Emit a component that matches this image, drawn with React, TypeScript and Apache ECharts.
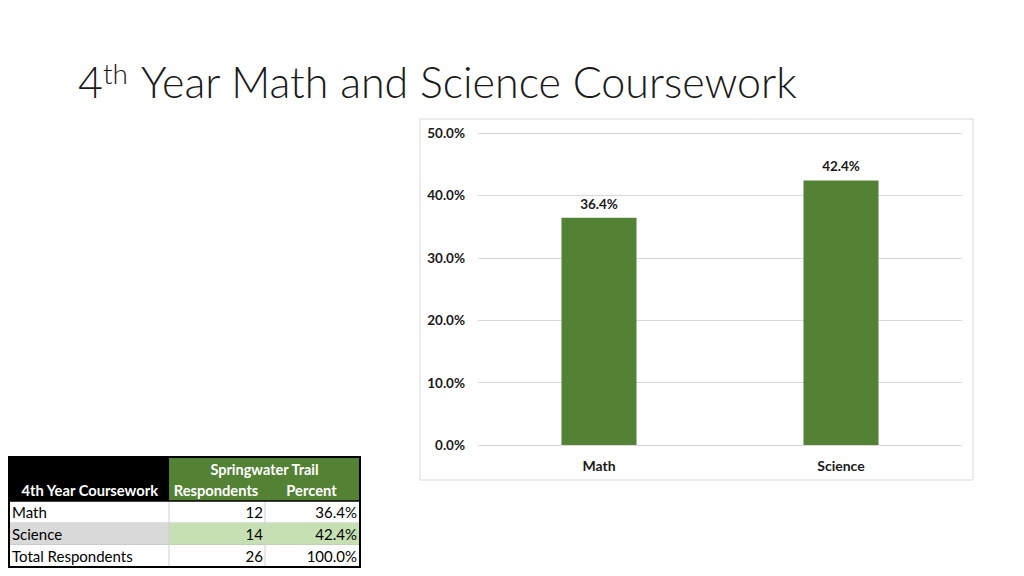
import React, { useEffect, useRef } from "react";
import * as echarts from "echarts";

const categories = ["Math", "Science"];
const respondents = [12, 14];
const percents = [0.364, 0.424];
const totalRespondents = 26;
const totalPercent = 1.0;

const GREEN = "#548235";
const FONT = "Lato, 'Open Sans', sans-serif";

function pct(v: number) {
  return (v * 100).toFixed(1) + "%";
}

function buildTable(): any[] {
  const x0 = 9, x1 = 169, x2 = 265, x3 = 360;
  const yTop = 457, hdrMid = 479, hdrEnd = 501, rowH = 22;
  const els: any[] = [];
  els.push({ type: "rect", shape: { x: x0, y: yTop, width: x1 - x0, height: hdrEnd - yTop }, style: { fill: "#000" } });
  els.push({ type: "rect", shape: { x: x1, y: yTop, width: x3 - x1, height: hdrEnd - yTop }, style: { fill: GREEN } });
  const rows = [
    ...categories.map((c, i) => ({ label: c, n: String(respondents[i]), p: pct(percents[i]) })),
    { label: "Total Respondents", n: String(totalRespondents), p: pct(totalPercent) },
  ];
  rows.forEach((r, i) => {
    const y = hdrEnd + i * rowH;
    const shaded = i === 1;
    els.push({ type: "rect", shape: { x: x0, y, width: x1 - x0, height: rowH }, style: { fill: shaded ? "#d9d9d9" : "#fff" } });
    els.push({ type: "rect", shape: { x: x1, y, width: x3 - x1, height: rowH }, style: { fill: shaded ? "#c6e0b4" : "#fff" } });
    els.push({ type: "text", x: x0 + 3, y: y + rowH / 2, style: { text: r.label, fill: "#000", font: `15px ${FONT}`, verticalAlign: "middle", align: "left" } });
    els.push({ type: "text", x: x2 - 2, y: y + rowH / 2, style: { text: r.n, fill: "#000", font: `15px ${FONT}`, verticalAlign: "middle", align: "right" } });
    els.push({ type: "text", x: x3 - 3, y: y + rowH / 2, style: { text: r.p, fill: "#000", font: `15px ${FONT}`, verticalAlign: "middle", align: "right" } });
    els.push({ type: "line", shape: { x1: x0, y1: y + rowH, x2: x3, y2: y + rowH }, style: { stroke: "#bfbfbf", lineWidth: 1 } });
  });
  els.push({ type: "line", shape: { x1: x1, y1: hdrEnd, x2: x1, y2: hdrEnd + 3 * rowH }, style: { stroke: "#d0d0d0", lineWidth: 1 } });
  els.push({ type: "line", shape: { x1: x2, y1: hdrEnd, x2: x2, y2: hdrEnd + 3 * rowH }, style: { stroke: "#d0d0d0", lineWidth: 1 } });
  els.push({ type: "line", shape: { x1: x0, y1: hdrEnd, x2: x3, y2: hdrEnd }, style: { stroke: "#000", lineWidth: 1.5 } });
  els.push({ type: "text", x: (x1 + x3) / 2, y: (yTop + hdrMid) / 2 + 1, style: { text: "Springwater Trail", fill: "#fff", font: `bold 14.5px ${FONT}`, align: "center", verticalAlign: "middle" } });
  els.push({ type: "text", x: x1 - 11, y: (hdrMid + hdrEnd) / 2, style: { text: "4th Year Coursework", fill: "#fff", font: `bold 14.7px ${FONT}`, align: "right", verticalAlign: "middle" } });
  els.push({ type: "text", x: (x1 + x2) / 2 - 1, y: (hdrMid + hdrEnd) / 2, style: { text: "Respondents", fill: "#fff", font: `bold 14.7px ${FONT}`, align: "center", verticalAlign: "middle" } });
  els.push({ type: "text", x: (x2 + x3) / 2 - 1, y: (hdrMid + hdrEnd) / 2, style: { text: "Percent", fill: "#fff", font: `bold 14.7px ${FONT}`, align: "center", verticalAlign: "middle" } });
  els.push({ type: "rect", shape: { x: x0, y: yTop, width: x3 - x0, height: hdrEnd + 3 * rowH - yTop }, style: { fill: "none", stroke: "#000", lineWidth: 2 } });
  return els;
}

export default function App() {
  const ref = useRef<HTMLDivElement>(null);
  useEffect(() => {
    const chart = echarts.init(ref.current!, null, { renderer: "svg" });
    chart.setOption({
      animation: false,
      backgroundColor: "#fff",
      grid: { left: 478, right: 62, top: 133, bottom: 131 },
      xAxis: {
        type: "category",
        data: categories,
        axisLine: { show: false },
        axisTick: { show: false },
        axisLabel: { color: "#1a1a1a", fontFamily: FONT, fontWeight: "bold", fontSize: 14, margin: 13 },
      },
      yAxis: {
        type: "value",
        min: 0,
        max: 0.5,
        interval: 0.1,
        axisLine: { show: false },
        axisTick: { show: false },
        splitLine: { lineStyle: { color: "#d9d9d9", width: 1 } },
        axisLabel: {
          color: "#1a1a1a",
          fontFamily: FONT,
          fontWeight: "bold",
          fontSize: 13.5,
          margin: 13,
          formatter: (v: number) => pct(v),
        },
      },
      series: [
        {
          type: "bar",
          data: percents,
          barWidth: "31%",
          itemStyle: { color: GREEN },
          label: {
            show: true,
            position: "top",
            distance: 7,
            color: "#1a1a1a",
            fontFamily: FONT,
            fontWeight: "bold",
            fontSize: 13.5,
            formatter: (p: any) => pct(p.value),
          },
        },
      ],
      graphic: [
        { type: "rect", shape: { x: 420, y: 119, width: 553, height: 361 }, style: { fill: "none", stroke: "#d9d9d9", lineWidth: 1 }, z: -1 },
        { type: "text", x: 78, y: 81, style: { text: "4", fill: "#1a1a1a", font: `300 43px ${FONT}`, verticalAlign: "middle" } },
        { type: "text", x: 103, y: 73, style: { text: "th", fill: "#1a1a1a", font: `300 28px ${FONT}`, verticalAlign: "middle" } },
        { type: "text", x: 141, y: 81, style: { text: "Year Math and Science Coursework", fill: "#1a1a1a", font: `300 43px ${FONT}`, verticalAlign: "middle" } },
        ...buildTable(),
      ],
    });
    return () => chart.dispose();
  }, []);
  return <div ref={ref} style={{ position: "fixed", left: 0, top: 0, width: 1024, height: 576 }} />;
}
